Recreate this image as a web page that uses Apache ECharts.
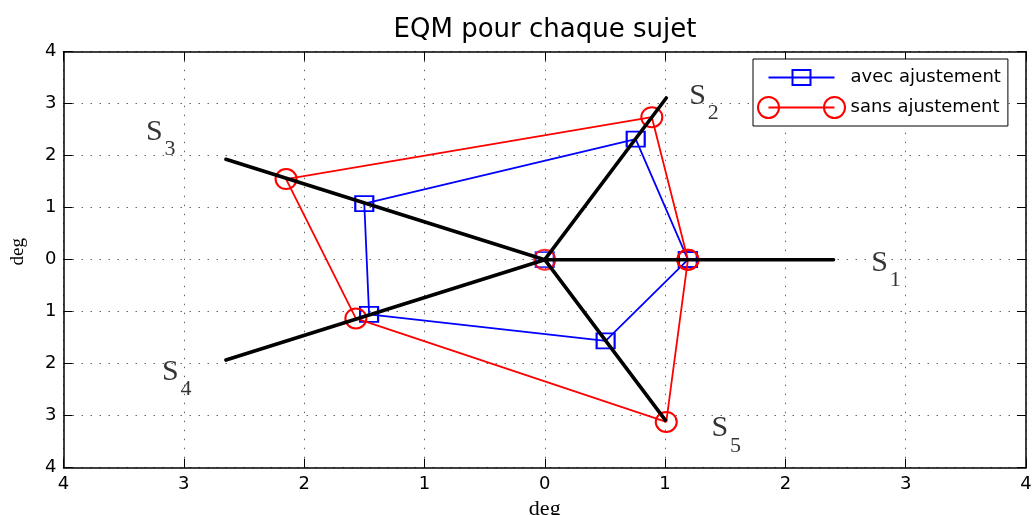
<!DOCTYPE html>
<html>
<head>
<meta charset="utf-8">
<title>EQM pour chaque sujet</title>
<script src="https://cdn.jsdelivr.net/npm/echarts@6/dist/echarts.min.js"></script>
<style>
  html, body { margin: 0; padding: 0; background: #ffffff; }
  #chart { width: 1032px; height: 515px; }
</style>
</head>
<body>
<div id="chart"></div>
<script>
// Erreur quadratique moyenne (deg) par sujet, avec et sans ajustement
const seriesNames = ['avec ajustement', 'sans ajustement'];
const avecX = [1.19, 0.756, -1.50, -1.46, 0.506];
const avecY = [0, 2.32, 1.08, -1.05, -1.56];
const sansX = [1.19, 0.89, -2.15, -1.57, 1.01];
const sansY = [0, 2.74, 1.55, -1.13, -3.12];

// Axes des sujets (rayons partant de l'origine)
const subjects = ['1', '2', '3', '4', '5'];
const spokeX = [2.4, 1.01, -2.65, -2.65, 1.01];
const spokeY = [0, 3.11, 1.93, -1.93, -3.11];

// Emplacement des étiquettes S_i
const labelX = [2.71, 1.196, -3.318, -3.185, 1.382];
const labelY = [-0.063, 3.15, 2.46, -2.16, -3.24];

// Graduations : valeurs absolues
const tickLabels = ['4', '3', '2', '1', '0', '1', '2', '3', '4'];
const axisMin = -4, axisMax = 4, axisStep = 1;

const BLUE = '#0000ff';
const RED = '#ff0000';
const SANS = 'DejaVu Sans';
const SERIF = 'Liberation Serif';

function closedPolygon(xs, ys) {
  const pts = xs.map((x, i) => [x, ys[i]]);
  pts.push(pts[0].slice());
  return pts;
}

function spokePath(xs, ys) {
  const pts = [];
  xs.forEach((x, i) => { pts.push([0, 0]); pts.push([x, ys[i]]); });
  return pts;
}

const tickFmt = v => tickLabels[Math.round((v - axisMin) / axisStep)];

const splitStyle = { show: true, lineStyle: { color: '#666666', width: 1, type: [1.5, 7.5] } };
const lineAxis = { show: true, onZero: false, lineStyle: { color: '#000000', width: 1.5 } };
const tickIn = { show: true, inside: true, length: 9, lineStyle: { color: '#000000', width: 1 } };

const iconAvec = 'path://M0,0M88,22M11,11L77,11M35,3.5L53,3.5L53,18.5L35,18.5Z';
const iconSans = 'path://M0,0M88,22M0.5,11A10.5,10.5,0,1,1,21.5,11A10.5,10.5,0,1,1,0.5,11ZM11,11L77,11M66.5,11A10.5,10.5,0,1,1,87.5,11A10.5,10.5,0,1,1,66.5,11Z';

// Étiquette d'un sujet : lettre S ou indice, placée à droite du point d'ancrage
function subjectLabels(name, textOf, fontSize, offset) {
  return {
    name: name,
    type: 'scatter',
    silent: true,
    data: subjects.map((s, i) => ({ value: [labelX[i], labelY[i]], txt: textOf(s) })),
    symbolSize: 1,
    itemStyle: { color: 'transparent' },
    label: {
      show: true,
      position: 'right',
      distance: 0,
      offset: offset,
      formatter: p => p.data.txt,
      fontFamily: SERIF,
      fontSize: fontSize,
      color: '#000000'
    },
    emphasis: { disabled: true },
    z: 6
  };
}

const chart = echarts.init(document.getElementById('chart'), null, { renderer: 'canvas' });

chart.setOption({
  backgroundColor: '#ffffff',
  animation: false,
  title: {
    text: 'EQM pour chaque sujet',
    left: 545,
    textAlign: 'center',
    top: 17,
    padding: 0,
    textStyle: { fontFamily: SANS, fontSize: 26, fontWeight: 'normal', color: '#000000' }
  },
  legend: {
    orient: 'vertical',
    left: 753,
    top: 59,
    padding: [5, 7, 5, 2],
    itemWidth: 88,
    itemHeight: 22,
    itemGap: 3,
    selectedMode: false,
    backgroundColor: '#ffffff',
    borderColor: '#000000',
    borderWidth: 1,
    textStyle: { fontFamily: SANS, fontSize: 18, color: '#000000' },
    data: [
      { name: seriesNames[0], icon: iconAvec, itemStyle: { color: 'none', borderColor: BLUE, borderWidth: 2 } },
      { name: seriesNames[1], icon: iconSans, itemStyle: { color: 'none', borderColor: RED, borderWidth: 2 } }
    ]
  },
  grid: { left: 63.5, right: 6, top: 51.7, bottom: 47.3, containLabel: false, outerBoundsMode: 'none' },
  xAxis: [
    {
      type: 'value', position: 'bottom', min: axisMin, max: axisMax, interval: axisStep,
      name: 'deg', nameLocation: 'middle', nameGap: 30,
      nameTextStyle: { fontFamily: SERIF, fontSize: 22, color: '#000000' },
      axisLine: lineAxis, axisTick: tickIn, splitLine: splitStyle,
      axisLabel: { formatter: tickFmt, margin: 8, fontFamily: SANS, fontSize: 18, color: '#000000' }
    },
    {
      type: 'value', position: 'top', min: axisMin, max: axisMax, interval: axisStep,
      axisLine: lineAxis, axisTick: tickIn, splitLine: { show: false }, axisLabel: { show: false }
    }
  ],
  yAxis: [
    {
      type: 'value', position: 'left', min: axisMin, max: axisMax, interval: axisStep,
      name: 'deg', nameLocation: 'middle', nameGap: 36,
      nameTextStyle: { fontFamily: SERIF, fontSize: 19, color: '#000000', padding: [0, 0, 0, 16] },
      axisLine: lineAxis, axisTick: tickIn, splitLine: splitStyle,
      axisLabel: { formatter: tickFmt, margin: 7, fontFamily: SANS, fontSize: 18, color: '#000000' }
    },
    {
      type: 'value', position: 'right', min: axisMin, max: axisMax, interval: axisStep,
      axisLine: lineAxis, axisTick: tickIn, splitLine: { show: false }, axisLabel: { show: false }
    }
  ],
  series: [
    {
      name: seriesNames[0],
      type: 'line',
      data: closedPolygon(avecX, avecY),
      symbol: 'rect',
      symbolSize: [18, 15],
      showAllSymbol: true,
      itemStyle: { color: 'transparent', borderColor: BLUE, borderWidth: 2 },
      lineStyle: { color: BLUE, width: 1.8 },
      emphasis: { disabled: true },
      z: 2
    },
    {
      name: seriesNames[1],
      type: 'line',
      data: closedPolygon(sansX, sansY),
      symbol: 'circle',
      symbolSize: [21, 20],
      showAllSymbol: true,
      itemStyle: { color: 'transparent', borderColor: RED, borderWidth: 2 },
      lineStyle: { color: RED, width: 1.8 },
      emphasis: { disabled: true },
      z: 3
    },
    {
      name: 'centre avec',
      type: 'scatter',
      data: [[0, 0]],
      symbol: 'rect',
      symbolSize: [18, 15],
      itemStyle: { color: 'transparent', borderColor: BLUE, borderWidth: 2 },
      emphasis: { disabled: true },
      z: 2
    },
    {
      name: 'centre sans',
      type: 'scatter',
      data: [[0, 0]],
      symbol: 'circle',
      symbolSize: [21, 20],
      itemStyle: { color: 'transparent', borderColor: RED, borderWidth: 2 },
      emphasis: { disabled: true },
      z: 3
    },
    {
      name: 'sujets',
      type: 'line',
      data: spokePath(spokeX, spokeY),
      symbol: 'none',
      lineStyle: { color: '#000000', width: 3.6, cap: 'butt', join: 'round' },
      emphasis: { disabled: true },
      z: 5
    },
    subjectLabels('lettre', () => 'S', 30, [0, 0]),
    subjectLabels('indice', s => s, 22, [18.5, 17.6])
  ]
});
</script>
</body>
</html>
